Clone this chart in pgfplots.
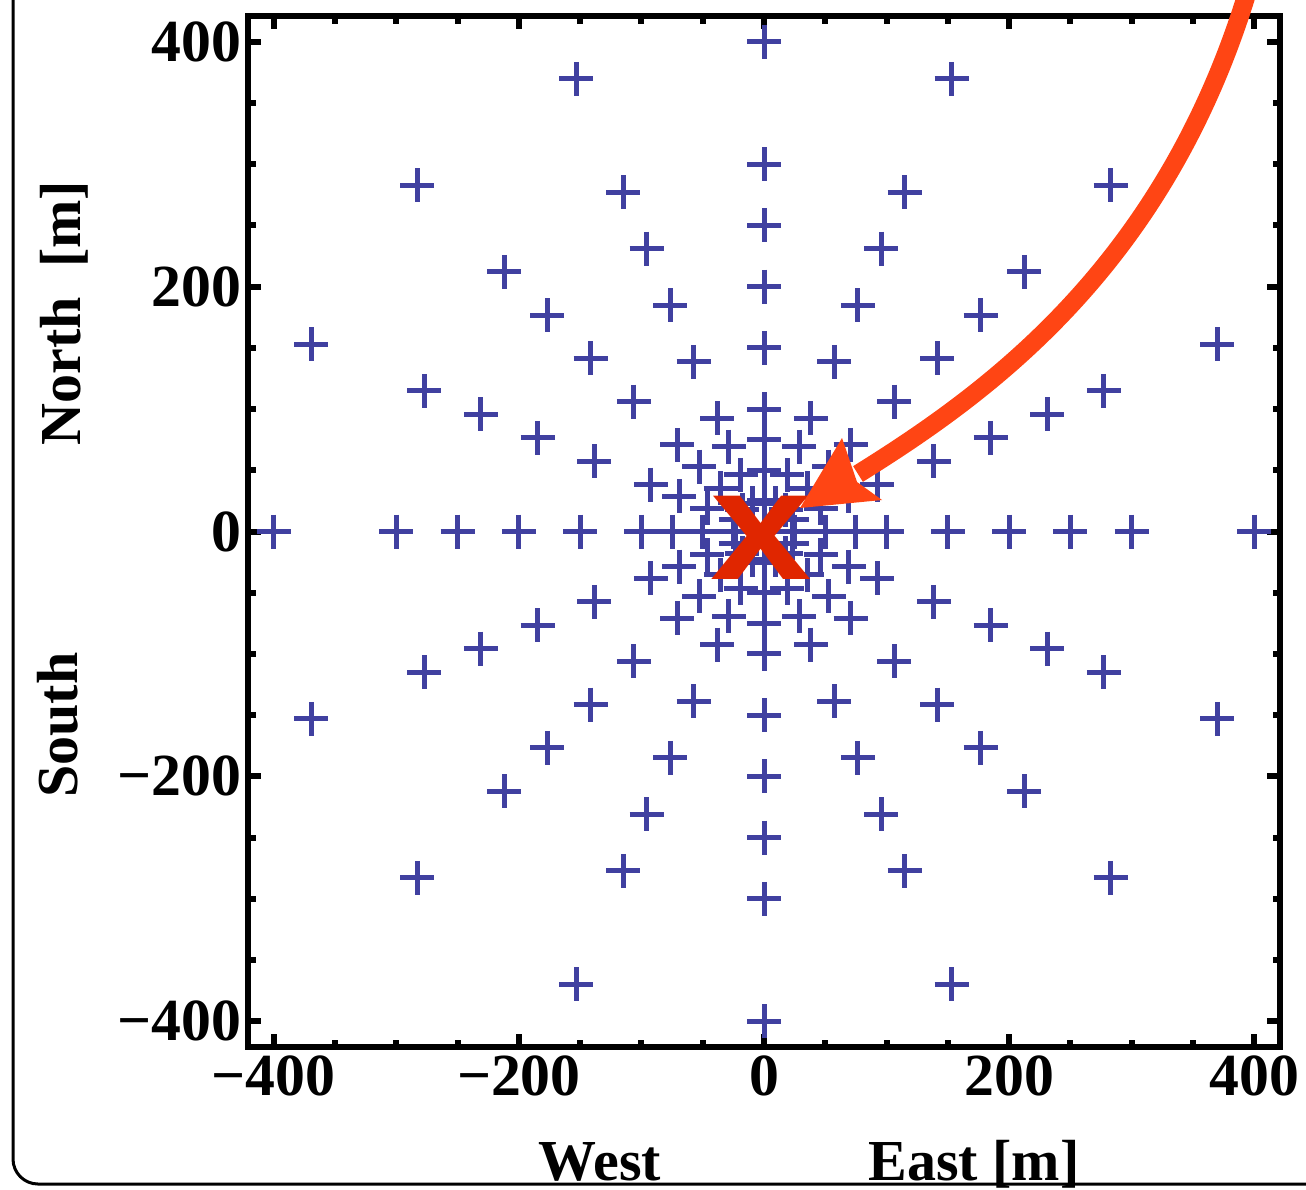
\documentclass[border=0pt]{standalone}
\usepackage{pgfplots}
\pgfplotsset{compat=1.18}
\usepackage{fontspec}
\setmainfont{Liberation Serif}
\newfontfamily\xfont{Liberation Sans}
\definecolor{ptblue}{RGB}{64,64,160}
\definecolor{arrowred}{RGB}{255,69,20}
\definecolor{xred}{RGB}{224,38,0}
\newcommand{\lblfont}{\fontsize{16.5}{16.5}\selectfont\bfseries}
\newcommand{\tickfont}{\fontsize{17}{17}\selectfont\bfseries}
\begin{document}
\begin{tikzpicture}
\begin{axis}[
  at={(24.8mm,14.2mm)}, anchor=south west,
  scale only axis, width=103.2mm, height=103.1mm,
  xmin=-421, xmax=421, ymin=-421, ymax=421,
  axis line style={line width=0.65mm},
  tick style={line width=0.6mm, black},
  major tick length=1.3mm, minor tick length=0.75mm,
  tick align=inside,
  xtick={-400,-200,0,200,400}, ytick={-400,-200,0,200,400},
  xticklabels={−400,−200,0,200,400},
  yticklabels={−400,−200,0,200,400},
  minor tick num=3,
  ticklabel style={font=\tickfont},
  yticklabel style={xshift=0.6mm},
  xticklabel style={yshift=0.35mm},
  clip=false,
]
\addplot[only marks, mark=+, mark size=1.7mm, color=ptblue, mark options={line width=0.5mm}] coordinates {
(0,0)
(25,0) (23.1,9.6) (17.7,17.7) (9.6,23.1) (0,25) (-9.6,23.1) (-17.7,17.7) (-23.1,9.6) (-25,0) (-23.1,-9.6) (-17.7,-17.7) (-9.6,-23.1) (0,-25) (9.6,-23.1) (17.7,-17.7) (23.1,-9.6)
(50,0) (46.2,19.1) (35.4,35.4) (19.1,46.2) (0,50) (-19.1,46.2) (-35.4,35.4) (-46.2,19.1) (-50,0) (-46.2,-19.1) (-35.4,-35.4) (-19.1,-46.2) (0,-50) (19.1,-46.2) (35.4,-35.4) (46.2,-19.1)
(75,0) (69.3,28.7) (53.0,53.0) (28.7,69.3) (0,75) (-28.7,69.3) (-53.0,53.0) (-69.3,28.7) (-75,0) (-69.3,-28.7) (-53.0,-53.0) (-28.7,-69.3) (0,-75) (28.7,-69.3) (53.0,-53.0) (69.3,-28.7)
(100,0) (92.4,38.3) (70.7,70.7) (38.3,92.4) (0,100) (-38.3,92.4) (-70.7,70.7) (-92.4,38.3) (-100,0) (-92.4,-38.3) (-70.7,-70.7) (-38.3,-92.4) (0,-100) (38.3,-92.4) (70.7,-70.7) (92.4,-38.3)
(150,0) (138.6,57.4) (106.1,106.1) (57.4,138.6) (0,150) (-57.4,138.6) (-106.1,106.1) (-138.6,57.4) (-150,0) (-138.6,-57.4) (-106.1,-106.1) (-57.4,-138.6) (0,-150) (57.4,-138.6) (106.1,-106.1) (138.6,-57.4)
(200,0) (184.8,76.5) (141.4,141.4) (76.5,184.8) (0,200) (-76.5,184.8) (-141.4,141.4) (-184.8,76.5) (-200,0) (-184.8,-76.5) (-141.4,-141.4) (-76.5,-184.8) (0,-200) (76.5,-184.8) (141.4,-141.4) (184.8,-76.5)
(250,0) (231.0,95.7) (176.8,176.8) (95.7,231.0) (0,250) (-95.7,231.0) (-176.8,176.8) (-231.0,95.7) (-250,0) (-231.0,-95.7) (-176.8,-176.8) (-95.7,-231.0) (0,-250) (95.7,-231.0) (176.8,-176.8) (231.0,-95.7)
(300,0) (277.2,114.8) (212.1,212.1) (114.8,277.2) (0,300) (-114.8,277.2) (-212.1,212.1) (-277.2,114.8) (-300,0) (-277.2,-114.8) (-212.1,-212.1) (-114.8,-277.2) (0,-300) (114.8,-277.2) (212.1,-212.1) (277.2,-114.8)
(400,0) (369.6,153.1) (282.8,282.8) (153.1,369.6) (0,400) (-153.1,369.6) (-282.8,282.8) (-369.6,153.1) (-400,0) (-369.6,-153.1) (-282.8,-282.8) (-153.1,-369.6) (0,-400) (153.1,-369.6) (282.8,-282.8) (369.6,-153.1)
};
\addplot[only marks, color=xred, mark=text, text mark={\scalebox{1.18}[1.02]{x}}, text mark as node=true,
  text mark style={font=\xfont\bfseries\fontsize{44}{44}\selectfont, text=xred, inner sep=0pt, anchor=center}] coordinates {(-2,-5.5)};
\end{axis}
\begin{scope}[shift={(0mm,118.9mm)}, x=0.1mm, y=-0.1mm]
  \node[anchor=base, font=\lblfont] at (600,1180) {West};
  \node[anchor=base, font=\lblfont] at (974,1180) {East [m]};
  \node[anchor=base, rotate=90, font=\lblfont] at (80,313) {North\ \ [m]};
  \node[anchor=base, rotate=90, font=\lblfont] at (77,725) {South};
  \draw[line width=0.3mm, rounded corners=2.5mm] (13,-60) -- (13,1184) -- (1450,1184);
  \draw[arrowred, line width=1.85mm] (1248,-10) .. controls (1164,268) and (985.5,394.5) .. (858,474);
  \fill[arrowred] (800,508) -- (842,438) -- (857,482) -- (882,500) -- cycle;
\end{scope}
\pgfresetboundingbox
\useasboundingbox (0,0) rectangle (130.6mm,118.9mm);
\end{tikzpicture}
\end{document}
